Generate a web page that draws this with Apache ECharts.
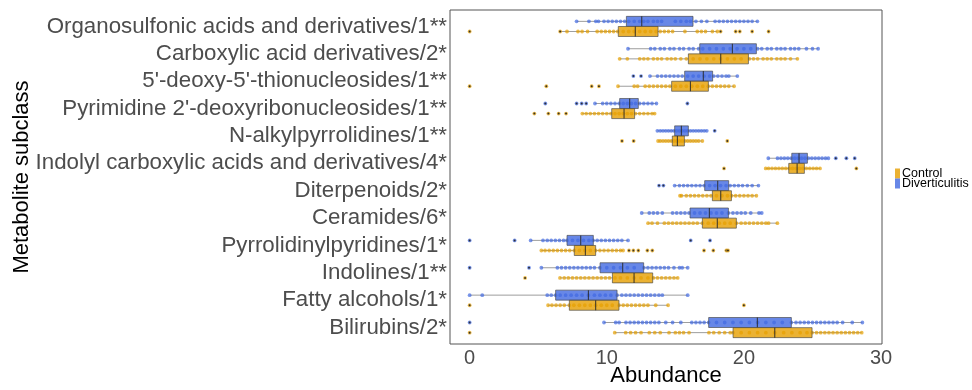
<!DOCTYPE html>
<html>
<head>
<meta charset="utf-8">
<script src="https://cdn.jsdelivr.net/npm/echarts@6/dist/echarts.min.js"></script>
<style>
html,body{margin:0;padding:0;background:#fff;}
#chart{width:972px;height:390px;}
</style>
</head>
<body>
<div id="chart"></div>
<script>
const categories = [
  "Organosulfonic acids and derivatives/1**",
  "Carboxylic acid derivatives/2*",
  "5'-deoxy-5'-thionucleosides/1**",
  "Pyrimidine 2'-deoxyribonucleosides/1**",
  "N-alkylpyrrolidines/1**",
  "Indolyl carboxylic acids and derivatives/4*",
  "Diterpenoids/2*",
  "Ceramides/6*",
  "Pyrrolidinylpyridines/1*",
  "Indolines/1**",
  "Fatty alcohols/1*",
  "Bilirubins/2*"
];
const xTicks = [0, 10, 20, 30];

// box statistics: [lower whisker, q1, median, q3, upper whisker]
const controlStats = [
  [6.64, 10.84, 12.08, 13.74, 18.06],
  [10.94, 15.95, 18.31, 20.33, 23.9],
  [10.82, 14.73, 16.1, 17.41, 19.28],
  [8.22, 10.36, 11.26, 12.03, 13.49],
  [13.74, 14.78, 15.15, 15.66, 16.97],
  [21.59, 23.27, 23.88, 24.41, 25.55],
  [15.34, 17.7, 18.31, 19.09, 20.91],
  [13.01, 16.97, 18.06, 19.45, 22.44],
  [5.23, 7.63, 8.44, 9.19, 11.19],
  [6.59, 10.41, 11.99, 13.35, 15.17],
  [5.72, 7.27, 9.19, 10.89, 14.47],
  [10.58, 19.21, 22.25, 24.97, 28.59]
];
const divStats = [
  [7.8, 11.43, 12.55, 16.29, 20.98],
  [11.55, 16.78, 19.16, 20.91, 25.41],
  [13.15, 15.68, 17.04, 17.72, 19.52],
  [9.14, 10.94, 11.67, 12.3, 13.62],
  [13.69, 14.95, 15.44, 15.95, 17.29],
  [21.78, 23.49, 24.02, 24.63, 26.16],
  [14.95, 17.14, 18.09, 18.89, 21.06],
  [12.55, 16.07, 17.48, 18.87, 21.3],
  [4.45, 7.1, 8.1, 9.02, 11.55],
  [5.23, 9.51, 11.16, 12.69, 15.9],
  [0, 6.27, 8.66, 10.75, 15.9],
  [9.8, 17.43, 20.98, 23.46, 28.64]
];

// individual observations per category
const controlPoints = [
  [0, 6.6, 7.1, 7.9, 8.2, 8.6, 9.3, 9.6, 9.9, 10.2, 10.5, 10.8, 11.2, 11.6, 12.0, 12.4, 12.8, 13.2, 13.6, 13.9, 14.2, 14.5, 14.8, 15.7, 16.6, 16.9, 17.2, 17.7, 18.06, 18.3, 19.4, 19.7, 20.6, 21.8],
  [10.94, 11.5, 12.4, 12.7, 13.0, 13.4, 13.7, 14.0, 14.4, 14.7, 15.0, 15.4, 15.8, 16.3, 16.8, 17.3, 17.8, 18.3, 18.8, 19.3, 19.8, 20.4, 20.7, 21.0, 21.4, 21.7, 22.0, 22.4, 22.7, 23.0, 23.4, 23.9],
  [0, 5.59, 8.9, 9.43, 10.82, 12.0, 12.25, 12.8, 13.1, 13.4, 13.7, 14.0, 14.3, 14.6, 15.0, 15.4, 15.8, 16.2, 16.6, 17.0, 17.4, 17.7, 18.0, 18.3, 18.6, 18.9, 19.28],
  [4.72, 5.74, 6.49, 7.03, 8.22, 8.5, 8.8, 9.1, 9.4, 9.7, 10.0, 10.3, 10.6, 10.9, 11.2, 11.5, 11.8, 12.1, 12.4, 12.7, 13.0, 13.3, 13.49],
  [11.11, 11.96, 13.74, 13.9, 14.1, 14.3, 14.5, 14.7, 14.9, 15.1, 15.3, 15.5, 15.7, 15.9, 16.1, 16.3, 16.5, 16.7, 16.97, 18.79],
  [18.55, 21.59, 21.8, 22.05, 22.3, 22.55, 22.8, 23.05, 23.3, 23.55, 23.8, 24.05, 24.3, 24.55, 24.8, 25.05, 25.3, 25.55, 28.2],
  [15.34, 15.45, 15.8, 16.1, 16.4, 16.7, 17.0, 17.3, 17.6, 18.0, 18.4, 18.8, 19.1, 19.4, 19.7, 20.0, 20.3, 20.6, 20.91],
  [13.01, 13.3, 13.7, 14.2, 14.5, 14.8, 15.1, 15.4, 15.7, 16.0, 16.3, 16.6, 16.97, 17.4, 17.8, 18.2, 18.6, 19.0, 19.45, 19.8, 20.1, 20.4, 20.7, 21.0, 21.3, 21.6, 21.8, 22.44],
  [5.23, 5.5, 5.8, 6.1, 6.4, 6.7, 7.0, 7.3, 7.63, 8.0, 8.4, 8.8, 9.19, 9.5, 9.8, 10.1, 10.4, 10.7, 11.0, 11.19, 11.62, 11.94, 12.3, 12.96, 13.32, 17.09, 17.77, 18.72, 18.84],
  [4.04, 6.59, 6.9, 7.2, 7.5, 7.8, 8.1, 8.4, 8.7, 9.0, 9.3, 9.6, 9.9, 10.2, 10.6, 11.0, 11.5, 12.0, 12.5, 13.0, 13.4, 13.7, 14.0, 14.3, 14.6, 14.9, 15.17],
  [0, 5.72, 6.0, 6.3, 6.6, 6.9, 7.27, 7.6, 8.0, 8.4, 8.8, 9.19, 9.6, 10.0, 10.4, 10.89, 11.2, 11.5, 11.8, 12.1, 12.4, 12.7, 13.0, 13.57, 14.47, 20.0],
  [0, 10.58, 11.38, 11.74, 12.1, 12.5, 13.1, 13.5, 13.9, 14.54, 15.0, 15.3, 15.6, 16.0, 17.45, 17.8, 18.2, 18.6, 19.0, 19.21, 19.8, 20.4, 21.0, 21.6, 22.25, 22.9, 23.5, 24.1, 24.6, 24.97, 25.3, 25.6, 25.9, 26.2, 26.5, 26.8, 27.1, 27.4, 27.7, 28.0, 28.3, 28.59]
];
const divPoints = [
  [7.8, 8.7, 9.2, 9.4, 9.8, 10.1, 10.4, 10.7, 11.0, 11.3, 11.6, 12.0, 12.4, 12.7, 13.0, 13.4, 13.7, 14.0, 15.0, 15.4, 15.8, 16.1, 16.5, 16.9, 17.3, 17.9, 18.2, 18.5, 18.8, 19.1, 19.4, 19.7, 20.0, 20.3, 20.6, 20.98],
  [11.55, 13.2, 13.5, 13.9, 14.2, 14.6, 14.9, 15.3, 15.6, 16.0, 16.3, 16.7, 17.0, 17.5, 18.0, 18.5, 19.0, 19.5, 20.0, 20.5, 21.0, 21.3, 21.7, 22.0, 22.4, 22.7, 23.0, 23.4, 23.7, 24.0, 24.56, 25.0, 25.41],
  [11.94, 12.5, 13.15, 13.7, 14.0, 14.3, 14.6, 14.9, 15.2, 15.5, 15.9, 16.3, 16.7, 17.1, 17.5, 17.8, 18.1, 18.4, 18.7, 18.9, 19.52],
  [5.52, 7.8, 8.17, 8.5, 9.14, 9.7, 10.0, 10.3, 10.6, 10.9, 11.2, 11.5, 11.8, 12.1, 12.4, 12.7, 13.0, 13.3, 13.62, 15.88],
  [13.69, 13.9, 14.1, 14.3, 14.5, 14.7, 14.9, 15.1, 15.3, 15.5, 15.7, 15.9, 16.1, 16.3, 16.5, 16.7, 16.9, 17.1, 17.29, 17.87],
  [21.78, 22.45, 22.7, 22.95, 23.2, 23.45, 23.7, 23.95, 24.2, 24.45, 24.7, 24.95, 25.2, 25.45, 25.7, 25.95, 26.16, 26.7, 27.47, 28.08],
  [13.81, 14.13, 14.95, 15.3, 15.6, 15.9, 16.2, 16.5, 16.8, 17.1, 17.5, 17.9, 18.3, 18.7, 19.0, 19.3, 19.6, 19.9, 20.25, 20.6, 21.06],
  [12.55, 13.1, 13.4, 13.7, 14.05, 14.8, 15.1, 15.4, 15.7, 16.0, 16.4, 16.8, 17.2, 17.6, 18.0, 18.4, 18.87, 19.2, 19.5, 19.8, 20.1, 20.5, 21.1, 21.3],
  [0, 3.28, 4.45, 5.35, 5.66, 5.95, 6.25, 6.55, 6.85, 7.1, 7.5, 7.9, 8.3, 8.7, 9.0, 9.3, 9.6, 9.9, 10.2, 10.5, 10.8, 11.1, 11.55, 16.12, 17.53],
  [0, 4.33, 5.23, 6.4, 6.7, 7.0, 7.3, 7.6, 7.9, 8.2, 8.5, 8.8, 9.1, 9.5, 10.0, 10.5, 11.0, 11.5, 12.0, 12.7, 13.0, 13.3, 13.6, 13.9, 14.2, 14.5, 14.9, 15.3, 15.5, 15.9],
  [0, 0.92, 5.66, 5.95, 6.27, 6.6, 7.0, 7.4, 7.8, 8.2, 8.66, 9.1, 9.5, 9.9, 10.3, 10.75, 11.1, 11.4, 11.7, 12.0, 12.3, 12.6, 12.9, 13.2, 13.5, 13.8, 14.05, 15.9],
  [0, 9.8, 10.65, 10.9, 11.4, 11.7, 12.0, 12.3, 12.6, 12.9, 13.2, 13.5, 13.8, 14.3, 14.8, 15.4, 16.2, 16.5, 16.8, 17.1, 17.43, 18.0, 18.6, 19.2, 19.8, 20.4, 21.0, 21.6, 22.2, 22.8, 23.46, 23.8, 24.1, 24.4, 24.7, 25.0, 25.3, 25.6, 25.9, 26.2, 26.5, 26.8, 27.2, 27.9, 28.64]
];

const groups = [
  {name: 'Diverticulitis', stats: divStats, points: divPoints, color: '#4169E1', fill: 'rgba(65,105,225,0.8)', off: -0.185},
  {name: 'Control', stats: controlStats, points: controlPoints, color: '#E69F00', fill: 'rgba(230,159,0,0.8)', off: 0.185}
];
const FONT = "'Liberation Sans', Arial, Helvetica, sans-serif";
const BOXH = 0.365;
const catIdx = categories.map((c, i) => i);

function whiskerSeries(g) {
  return {
    type: 'custom', name: g.name, z: 2,
    itemStyle: {color: g.fill, borderColor: '#666'},
    encode: {x: [1, 2, 3, 4, 5], y: 0},
    data: g.stats.map((s, i) => [i].concat(s)),
    renderItem: function (params, api) {
      const c = api.value(0);
      const unit = Math.abs(api.size([0, 1])[1]);
      const y = api.coord([0, c])[1] + g.off * unit;
      const xs = [1, 2, 3, 4, 5].map(k => api.coord([api.value(k), c])[0]);
      const st = {stroke: 'rgba(110,110,110,0.85)', lineWidth: 0.8};
      return {type: 'group', children: [
        {type: 'line', shape: {x1: xs[0], y1: y, x2: xs[1], y2: y}, style: st},
        {type: 'line', shape: {x1: xs[3], y1: y, x2: xs[4], y2: y}, style: st}
      ]};
    }
  };
}
function pointSeries(g) {
  const data = [];
  g.points.forEach((arr, i) => {
    const s = g.stats[i];
    arr.forEach(v => data.push([v, i, (v < s[0] || v > s[4]) ? 1 : 0]));
  });
  return {
    type: 'custom', name: g.name, z: 3,
    itemStyle: {color: g.fill, borderColor: '#666'},
    encode: {x: 0, y: 1},
    data: data,
    renderItem: function (params, api) {
      const c = api.value(1);
      const unit = Math.abs(api.size([0, 1])[1]);
      const p = api.coord([api.value(0), c]);
      const y = p[1] + g.off * unit;
      const ch = [{type: 'circle', shape: {cx: p[0], cy: y, r: 1.9}, style: {fill: g.color, opacity: 0.7}}];
      if (api.value(2) === 1) {
        ch.push({type: 'circle', shape: {cx: p[0], cy: y, r: 1.0}, style: {fill: '#222', opacity: 0.9}});
      }
      return {type: 'group', children: ch};
    }
  };
}
function boxSeries(g) {
  return {
    type: 'custom', name: g.name, z: 4,
    itemStyle: {color: g.fill, borderColor: '#666'},
    encode: {x: [1, 2, 3, 4, 5], y: 0},
    data: g.stats.map((s, i) => [i].concat(s)),
    renderItem: function (params, api) {
      const c = api.value(0);
      const unit = Math.abs(api.size([0, 1])[1]);
      const y = api.coord([0, c])[1] + g.off * unit;
      const h = BOXH * unit;
      const xs = [1, 2, 3, 4, 5].map(k => api.coord([api.value(k), c])[0]);
      return {type: 'group', children: [
        {type: 'rect', shape: {x: xs[1], y: y - h / 2, width: xs[3] - xs[1], height: h},
          style: {fill: g.fill, stroke: 'rgba(70,70,70,0.65)', lineWidth: 1}},
        {type: 'line', shape: {x1: xs[2], y1: y - h / 2, x2: xs[2], y2: y + h / 2},
          style: {stroke: 'rgba(40,40,40,0.85)', lineWidth: 1.1}}
      ]};
    }
  };
}

const series = [];
groups.forEach(g => series.push(whiskerSeries(g)));
groups.forEach(g => series.push(pointSeries(g)));
groups.forEach(g => series.push(boxSeries(g)));

const chart = echarts.init(document.getElementById('chart'), null, {renderer: 'canvas'});
chart.setOption({
  animation: false,
  backgroundColor: '#fff',
  textStyle: {fontFamily: FONT},
  grid: {left: 450, right: 90, top: 10, bottom: 46, show: true, borderColor: '#555', borderWidth: 1,
    backgroundColor: 'transparent', containLabel: false, outerBoundsMode: 'none'},
  legend: {
    orient: 'vertical', left: 890, top: 162, itemGap: -3,
    itemWidth: 5, itemHeight: 10,
    data: [{name: 'Control', icon: 'rect'}, {name: 'Diverticulitis', icon: 'rect'}],
    textStyle: {fontSize: 12.5, color: '#000', fontFamily: FONT, padding: [0, 0, 0, -3]},
    selectedMode: false
  },
  xAxis: {
    type: 'value', min: -1.432, max: 30.07,
    name: 'Abundance', nameLocation: 'middle', nameGap: 21, nameMoveOverlap: false,
    nameTextStyle: {fontSize: 22, color: '#000', fontFamily: FONT},
    axisLine: {show: false}, axisTick: {show: false}, splitLine: {show: false},
    axisLabel: {customValues: xTicks, fontSize: 20, color: '#4d4d4d', margin: 4, fontFamily: FONT}
  },
  yAxis: {
    type: 'value', min: -0.6, max: 11.6, inverse: true,
    name: 'Metabolite subclass', nameLocation: 'middle', nameGap: 417, nameRotate: 90, nameMoveOverlap: false,
    nameTextStyle: {fontSize: 22, color: '#000', fontFamily: FONT},
    axisLine: {show: false}, axisTick: {show: false}, splitLine: {show: false},
    axisLabel: {
      customValues: catIdx, fontSize: 22.3, color: '#4d4d4d', margin: 3, fontFamily: FONT,
      formatter: v => categories[Math.round(v)] || ''
    }
  },
  series: series
});
</script>
</body>
</html>
